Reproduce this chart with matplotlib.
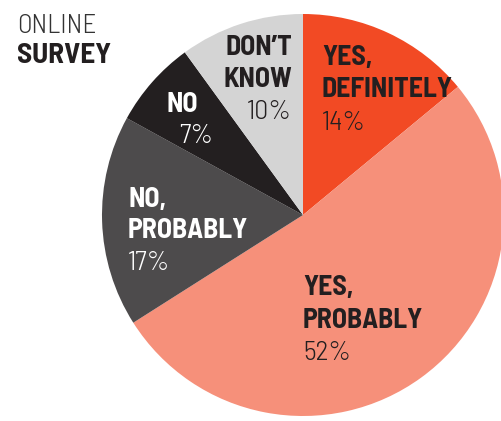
import matplotlib.pyplot as plt

# survey answers, clockwise from the top
answers = ["YES,\nDEFINITELY", "YES,\nPROBABLY", "NO,\nPROBABLY", "NO", "DON\u2019T\nKNOW"]
shares = [14, 52, 17, 7, 10]
colors = ["#F24A24", "#F6907A", "#4D4B4C", "#231F20", "#D4D4D4"]
text_colors = ["#231F20", "#231F20", "white", "white", "#231F20"]

plt.rcParams["font.family"] = ["Barlow Semi Condensed", "DejaVu Sans"]

W, H = 502, 421
fig = plt.figure(figsize=(W / 100, H / 100), dpi=100)
ax = fig.add_axes([0, 0, 1, 1])

# y axis runs downward like the picture, so angles go clockwise on screen
ax.pie(shares, colors=colors, startangle=-90, counterclock=True,
       center=(303, 215), radius=201, frame=True,
       wedgeprops=dict(linewidth=0))
ax.set_xlim(0, W)
ax.set_ylim(H, 0)
ax.axis("off")

# label placement: (x, baseline of each line, alignment)
label_pos = [
    (322, [65, 97, 130], "left"),
    (303, [295, 328, 360], "left"),
    (128, [207, 238, 270], "left"),
    (167, [112, 143], "left"),
    (292, [55, 87, 119], "right"),
]
fs = 20
for name, pct, (x, ys, ha), tc in zip(answers, shares, label_pos, text_colors):
    lines = name.split("\n")
    for line, y in zip(lines, ys):
        ax.text(x, y, line, ha=ha, va="baseline", fontsize=fs,
                fontweight=700, color=tc)
    px = x + 12 if name == "NO" else x
    ax.text(px, ys[len(lines)], f"{pct}%", ha=ha, va="baseline",
            fontsize=fs, fontweight=300, color=tc)

ax.text(17, 33, "ONLINE", ha="left", va="baseline", fontsize=19.5,
        fontweight=300, color="#333333")
ax.text(17, 63, "SURVEY", ha="left", va="baseline", fontsize=21,
        fontweight=700, color="#231F20")

fig.savefig("out.png", dpi=100)
